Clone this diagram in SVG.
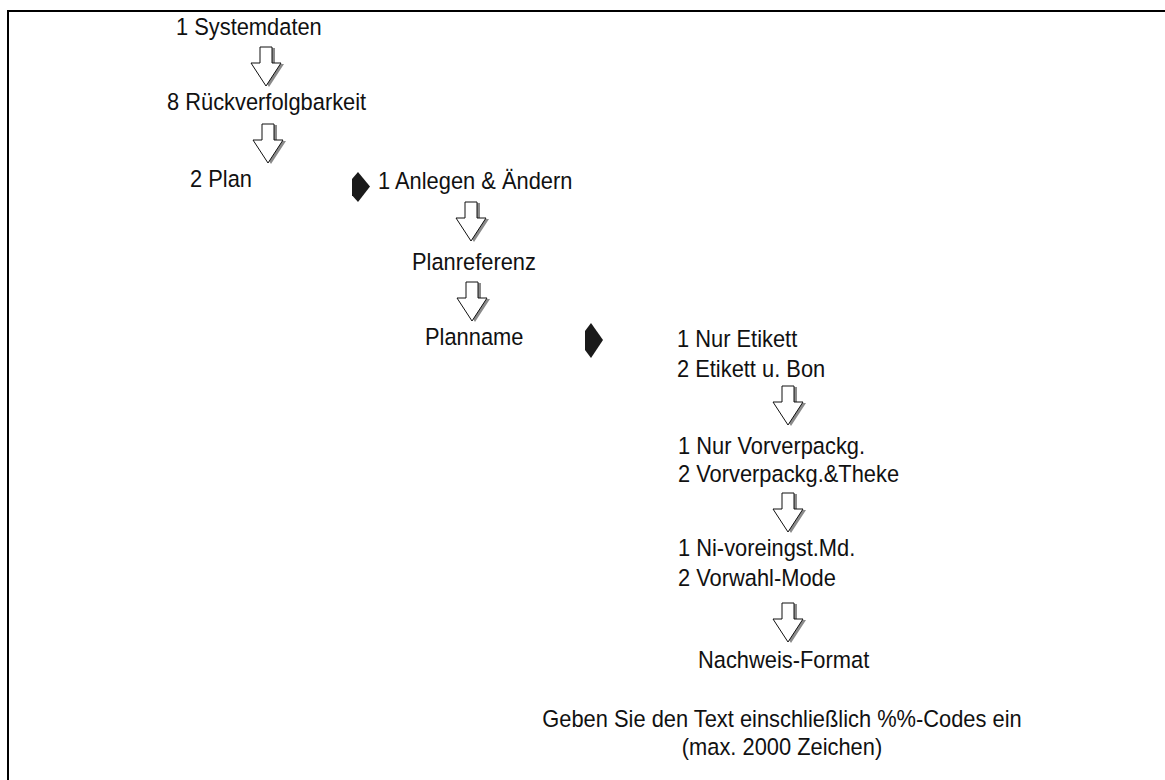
<svg xmlns="http://www.w3.org/2000/svg" width="1165" height="780" viewBox="0 0 1165 780">
<style>
text{font-family:"Liberation Sans",Arial,sans-serif;font-size:23.5px;fill:#111}
.c{text-anchor:middle}
.sh{fill:#8a8a8a;stroke:none}
.ar{fill:#fff;stroke:#111;stroke-width:1}
.pt{fill:#1a1a1a}
</style>
<defs>
<path id="dn" d="M-6,0 H6 V16 H15 L0,39 L-15,16 H-6 Z"/>
<g id="arrow"><use href="#dn" class="sh" transform="translate(3,1)"/><use href="#dn" class="ar"/></g>
<polygon id="ptr" points="0,8 6,0 18,17 6,35 0,27"/>
</defs>
<rect width="1165" height="780" fill="#fff"/>
<path d="M8,780 V11 H1165" fill="none" stroke="#000" stroke-width="2"/>
<g id="connectors">
<use href="#arrow" transform="translate(266,47)"/>
<use href="#arrow" transform="translate(268,124)"/>
<use href="#arrow" transform="translate(471,202)"/>
<use href="#arrow" transform="translate(472,282)"/>
<use href="#arrow" transform="translate(788,386)"/>
<use href="#arrow" transform="translate(788,493)"/>
<use href="#arrow" transform="translate(788,603)"/>
<use href="#ptr" class="pt" transform="translate(352,172) scale(1,0.86)"/>
<use href="#ptr" class="pt" transform="translate(585,323)"/>
</g>
<g id="n1" transform="translate(176,35) scale(0.93,1)"><text>1 Systemdaten</text></g>
<g id="n2" transform="translate(167,110) scale(0.93,1)"><text>8 Rückverfolgbarkeit</text></g>
<g id="n3" transform="translate(190,187) scale(0.93,1)"><text>2 Plan</text></g>
<g id="n4" transform="translate(378,189) scale(0.93,1)"><text>1 Anlegen &amp; Ändern</text></g>
<g id="n5" transform="translate(412,270) scale(0.93,1)"><text>Planreferenz</text></g>
<g id="n6" transform="translate(425,345) scale(0.93,1)"><text>Planname</text></g>
<g id="n7" transform="translate(677,347) scale(0.93,1)"><text>1 Nur Etikett</text><text y="30">2 Etikett u. Bon</text></g>
<g id="n8" transform="translate(678,454) scale(0.93,1)"><text>1 Nur Vorverpackg.</text><text y="28">2 Vorverpackg.&amp;Theke</text></g>
<g id="n9" transform="translate(678,556) scale(0.93,1)"><text>1 Ni-voreingst.Md.</text><text y="30">2 Vorwahl-Mode</text></g>
<g id="n10" transform="translate(698,668) scale(0.93,1)"><text>Nachweis-Format</text></g>
<g id="n11" transform="translate(782,727) scale(0.93,1)"><text class="c">Geben Sie den Text einschließlich %%-Codes ein</text><text class="c" y="28">(max. 2000 Zeichen)</text></g>
</svg>
